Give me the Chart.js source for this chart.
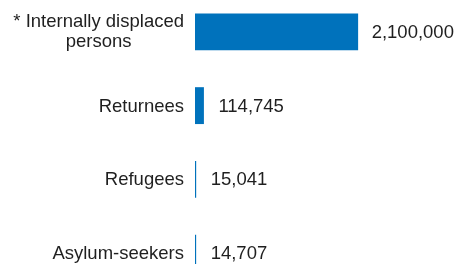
<!DOCTYPE html>
<html>
<head>
<meta charset="utf-8">
<script src="https://cdn.jsdelivr.net/npm/chart.js@4/dist/chart.umd.min.js"></script>
<style>
  html, body { margin: 0; padding: 0; background: #fff; overflow: hidden; width: 456px; height: 264px; }
  #wrap { position: absolute; left: 0; top: -5px; width: 456px; height: 295px; }
</style>
</head>
<body>
<div id="wrap"><canvas id="c"></canvas></div>
<script>
const categories = [["* Internally displaced", "persons"], "Returnees", "Refugees", "Asylum-seekers"];
const values = [2100000, 114745, 15041, 14707];
const valueLabels = ["2,100,000", "114,745", "15,041", "14,707"];
const xMax = 3360000;

const FONT = '18.5px "Liberation Sans", Arial, sans-serif';
const TEXT = '#1f1f1f';
const BAR = '#0072BC';

const labelPlugin = {
  id: 'labels',
  afterDatasetsDraw(chart) {
    const ctx = chart.ctx;
    const meta = chart.getDatasetMeta(0);
    const yScale = chart.scales.y;
    ctx.save();
    ctx.font = FONT;
    ctx.fillStyle = TEXT;
    ctx.textBaseline = 'middle';
    meta.data.forEach((bar, i) => {
      // value label
      ctx.textAlign = 'left';
      const vx = bar.x + (i === 0 ? 13.5 : 14.5);
      ctx.fillText(valueLabels[i], vx, bar.y + 1);
      // category label
      const cy = yScale.getPixelForValue(i);
      const lab = categories[i];
      if (Array.isArray(lab)) {
        const lh = 20.5;
        const widths = lab.map(s => ctx.measureText(s).width);
        const maxW = Math.max(...widths);
        const centerX = 184 - maxW / 2;
        ctx.textAlign = 'center';
        lab.forEach((s, k) => {
          ctx.fillText(s, centerX, cy + (k - (lab.length - 1) / 2) * lh);
        });
      } else {
        ctx.textAlign = 'right';
        ctx.fillText(lab, 184, cy + 1);
      }
    });
    ctx.restore();
  }
};

new Chart(document.getElementById('c'), {
  type: 'bar',
  data: {
    labels: categories,
    datasets: [{
      data: values,
      backgroundColor: BAR,
      borderWidth: 0,
      barPercentage: 0.5,
      categoryPercentage: 1.0
    }]
  },
  options: {
    indexAxis: 'y',
    responsive: true,
    maintainAspectRatio: false,
    animation: false,
    layout: { padding: { left: 195, right: 0, top: 0, bottom: 0 } },
    plugins: { legend: { display: false }, tooltip: { enabled: false } },
    scales: {
      x: { display: false, min: 0, max: xMax },
      y: { display: false }
    }
  },
  plugins: [labelPlugin]
});
</script>
</body>
</html>
